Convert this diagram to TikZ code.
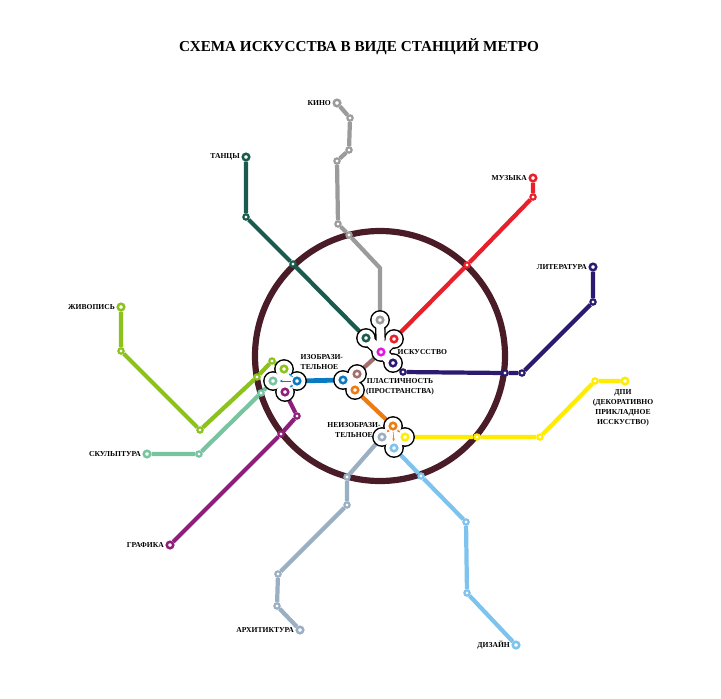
\documentclass[tikz,border=0pt]{standalone}
\usepackage{fontspec}
\setmainfont{Liberation Serif}
\usetikzlibrary{arrows.meta,positioning}

\pgfdeclarelayer{lines}
\pgfdeclarelayer{hubs}
\pgfsetlayers{lines,hubs,main}

\definecolor{ringc}{HTML}{4A1C28}
\definecolor{kino}{HTML}{9B9B9B}
\definecolor{tancy}{HTML}{1B5B4E}
\definecolor{muz}{HTML}{E8202A}
\definecolor{lit}{HTML}{2B1A70}
\definecolor{dpi}{HTML}{FFEC00}
\definecolor{diz}{HTML}{7DC3EE}
\definecolor{arh}{HTML}{9AAFC2}
\definecolor{neizo}{HTML}{EE7A12}
\definecolor{plast}{HTML}{A26F6C}
\definecolor{isk}{HTML}{E01ADD}
\definecolor{izo}{HTML}{0B7BC1}
\definecolor{zhiv}{HTML}{8BC21C}
\definecolor{skul}{HTML}{79C4A0}
\definecolor{graf}{HTML}{8E1E7C}

\tikzset{
  ln/.style={draw=#1, line width=3pt},
  stn/.style={circle, draw=#1, fill=white, line width=1.8pt, minimum size=4.6pt, inner sep=0pt},
  mid/.style={circle, draw=#1, fill=white, line width=1.5pt, minimum size=3.8pt, inner sep=0pt},
  lbl/.style={font=\bfseries\fontsize{5.4}{7}\selectfont, inner sep=1pt},
  tip/.style={draw=#1, line width=0.45pt, -{Stealth[length=2.2pt,width=1.8pt]}, shorten <=1pt, shorten >=1.5pt},
}

\begin{document}
\begin{tikzpicture}[x=0.025cm, y=-0.025cm]
\useasboundingbox (0,0) rectangle (721,698);

\node[font=\bfseries\fontsize{10.8}{12}\selectfont] (title) at (359,47)
{СХЕМА ИСКУССТВА В ВИДЕ СТАНЦИЙ МЕТРО};

% Hub stations
\node[stn=kino] (kn0) at (380,320) {};
\node[stn=tancy] (tn0) at (366,338) {};
\node[stn=muz] (mu0) at (394,339) {};
\node[stn=isk] (is0) at (381,352) {};
\node[stn=lit] (lt0) at (393,363) {};

\node[stn=zhiv] (zh0) at (284,369) {};
\node[stn=skul] (sk0) at (273,381) {};
\node[stn=izo] (iz0) at (297,381) {};
\node[stn=graf] (gr0) at (285,392) {};

\node[stn=izo] (pl0) at (343,380) {};
\node[stn=plast] (pl1) at (357,374) {};
\node[stn=neizo] (pl2) at (355,390) {};

\node[stn=neizo] (ne0) at (393,426) {};
\node[stn=arh] (ar0) at (382,437) {};
\node[stn=dpi] (dp0) at (405,437) {};
\node[stn=diz] (dz0) at (394,448) {};

\coordinate (izc) at (285,381);
\coordinate (plc) at (351,381);
\coordinate (nec) at (393,437);

% Kino
\node[stn=kino] (kn1) at (337,103) {};
\node[mid=kino] (kn2) at (350,118) {};
\node[mid=kino] (kn3) at (349,150) {};
\node[mid=kino] (kn4) at (337,161) {};
\node[mid=kino] (kn5) at (338,224) {};
\node[mid=kino] (kn6) at (349,235) {};
\coordinate (kn7) at (380,268);

% Tancy
\node[stn=tancy] (tn1) at (246,157) {};
\node[mid=tancy] (tn2) at (246,217) {};
\node[mid=tancy] (tn3) at (293,264) {};

% Muzyka
\node[stn=muz] (mu1) at (533,178) {};
\node[mid=muz] (mu2) at (533,197) {};
\node[mid=muz] (mu3) at (467,265) {};

% Literatura
\node[stn=lit] (lt1) at (593,267) {};
\node[mid=lit] (lt2) at (593,302) {};
\node[mid=lit] (lt3) at (522,373) {};
\node[mid=lit] (lt4) at (505,373) {};
\node[mid=lit] (lt5) at (403,372) {};

% DPI
\node[stn=dpi] (dp1) at (625,381) {};
\node[mid=dpi] (dp2) at (595,381) {};
\node[mid=dpi] (dp3) at (540,437) {};
\node[mid=dpi] (dp4) at (477,437) {};

% Dizain
\node[mid=diz] (dz1) at (421,476) {};
\node[mid=diz] (dz2) at (466,522) {};
\node[mid=diz] (dz3) at (467,593) {};
\node[stn=diz] (dz4) at (516,645) {};

% Arhitektura
\node[mid=arh] (ar1) at (347,477) {};
\node[mid=arh] (ar2) at (347,505) {};
\node[mid=arh] (ar3) at (278,574) {};
\node[mid=arh] (ar4) at (277,606) {};
\node[stn=arh] (ar5) at (300,630) {};

% Zhivopis
\node[stn=zhiv] (zh1) at (121,307) {};
\node[mid=zhiv] (zh2) at (121,351) {};
\node[mid=zhiv] (zh3) at (200,430) {};
\node[mid=zhiv] (zh4) at (257,377) {};
\node[mid=zhiv] (zh5) at (272,361) {};

% Skulptura
\node[stn=skul] (sk1) at (147,454) {};
\node[mid=skul] (sk2) at (199,454) {};
\node[mid=skul] (sk3) at (261,393) {};

% Grafika
\node[mid=graf] (gr1) at (297,416) {};
\node[mid=graf] (gr2) at (281,434) {};
\node[stn=graf] (gr3) at (170,545) {};

% Labels
\node[lbl, anchor=east] (lkino) at (kn1.west) {КИНО};
\node[lbl, anchor=east] (ltancy) at (tn1.west) {ТАНЦЫ};
\node[lbl, anchor=east] (lmuz) at (mu1.west) {МУЗЫКА};
\node[lbl, anchor=east] (llit) at (lt1.west) {ЛИТЕРАТУРА};
\node[lbl, anchor=east] (lzhiv) at (zh1.west) {ЖИВОПИСЬ};
\node[lbl, anchor=east] (lskul) at (sk1.west) {СКУЛЬПТУРА};
\node[lbl, anchor=east] (lgraf) at (gr3.west) {ГРАФИКА};
\node[lbl, anchor=east] (larh) at (ar5.west) {АРХИТИКТУРА};
\node[lbl, anchor=east] (ldiz) at (dz4.west) {ДИЗАЙН};
\node[lbl, align=center] (ldpi) at (623,408)
{ДПИ\\(ДЕКОРАТИВНО\\ПРИКЛАДНОЕ\\ИССКУСТВО)};

\node[lbl, anchor=west] (lisk) at (396,352) {ИСКУССТВО};
\node[lbl, align=left, anchor=west] (lizo) at (299,362) {ИЗОБРАЗИ-\\ТЕЛЬНОЕ};
\node[lbl, align=center] (lplast) at (400,387) {ПЛАСТИЧНОСТЬ\\(ПРОСТРАНСТВА)};
\node[lbl, align=center] (lneizo) at (354,430) {НЕИЗОБРАЗИ-\\ТЕЛЬНОЕ};

% Arrows inside hubs
\draw[tip=izo] (iz0) -- (zh0);
\draw[tip=izo] (iz0) -- (sk0);
\draw[tip=izo] (iz0) -- (gr0);
\draw[tip=neizo] (ne0) -- (ar0);
\draw[tip=neizo] (ne0) -- (dp0);
\draw[tip=neizo] (ne0) -- (dz0);

% Hub outlines
\begin{pgfonlayer}{hubs}
\foreach \col/\rad/\wd/\nk in {black/9.9/9pt/7.5pt, white/8.4/7.1pt/5.6pt}{
  \foreach \s in {kn0,tn0,mu0,is0,lt0,zh0,sk0,iz0,gr0,pl0,pl1,pl2,ne0,ar0,dp0,dz0}
    \fill[\col] (\s.center) circle[radius=\rad];
  \fill[\col] (izc) circle[radius=\rad] (plc) circle[radius=\rad] (nec) circle[radius=\rad];
  \draw[\col, line width=\wd, line cap=round] (tn0.center) -- (is0.center) -- (mu0.center)
    (is0.center) -- (lt0.center);
  \draw[\col, line width=\nk] (kn0.center) -- (is0.center);
}
\end{pgfonlayer}

% Lines
\begin{pgfonlayer}{lines}
\draw[ringc, line width=4.4pt] (380,356) circle[radius=125];

\draw[ln=kino] (kn1) -- (kn2) -- (kn3) -- (kn4) -- (kn5) -- (kn6) -- (kn7) -- (kn0);
\draw[ln=tancy] (tn1) -- (tn2) -- (tn3) -- (tn0);
\draw[ln=muz] (mu1) -- (mu2) -- (mu3) -- (mu0);
\draw[ln=lit] (lt1) -- (lt2) -- (lt3) -- (lt4) -- (lt5) -- (lt0);
\draw[ln=dpi] (dp1) -- (dp2) -- (dp3) -- (dp4) -- (dp0);
\draw[ln=diz] (dz0) -- (dz1) -- (dz2) -- (dz3) -- (dz4);
\draw[ln=arh] (ar0) -- (ar1) -- (ar2) -- (ar3) -- (ar4) -- (ar5);
\draw[ln=zhiv] (zh1) -- (zh2) -- (zh3) -- (zh4) -- (zh5) -- (zh0);
\draw[ln=skul] (sk1) -- (sk2) -- (sk3) -- (sk0);
\draw[ln=graf] (gr0) -- (gr1) -- (gr2) -- (gr3);
\draw[ln=izo, line width=3.4pt] (iz0) -- (pl0);
\draw[ln=plast] (pl1) -- (is0);
\draw[ln=neizo] (pl2) -- (ne0);
\end{pgfonlayer}

\end{tikzpicture}
\end{document}
